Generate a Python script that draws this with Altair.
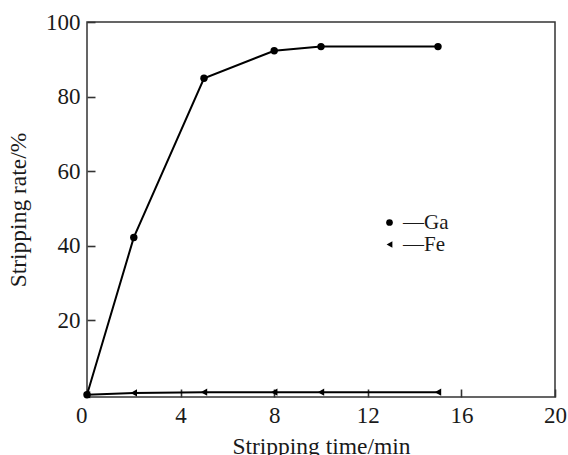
import altair as alt
import pandas as pd

# Stripping time (min) and stripping rate (%) for each metal
times = [0, 2, 5, 8, 10, 15]
ga_rate = [0, 42.2, 84.9, 92.3, 93.4, 93.4]
fe_rate = [0, 0.5, 0.7, 0.7, 0.7, 0.7]
series = ["Ga", "Fe"]

x_ticks = [0, 4, 8, 12, 16, 20]
y_ticks = [20, 40, 60, 80, 100]

df = pd.DataFrame(
    {
        "time": times * 2,
        "rate": ga_rate + fe_rate,
        "metal": ["Ga"] * len(times) + ["Fe"] * len(times),
    }
)

FONT = "Liberation Serif"
AXIS_GRAY = "#333333"
TEXT = "#1a1a1a"
W, H = 468, 375
TICK_LEN = 8

x_scale = alt.Scale(domain=[0, 20], nice=False)
y_scale = alt.Scale(domain=[-0.6, 100], nice=False, zero=False)

# The axes are shifted into the plot by the tick length, so the ticks point
# inward from the frame while the labels stay just outside it.
x_axis = alt.Axis(
    values=x_ticks,
    title="Stripping time/min",
    offset=-TICK_LEN,
    ticks=True,
    tickSize=TICK_LEN,
    tickWidth=1.6,
    tickColor=AXIS_GRAY,
    domain=False,
    grid=False,
    labelFlush=False,
    labelAlign={"condition": {"test": "datum.value === 0", "value": "right"}, "value": "center"},
    labelPadding=7,
    titlePadding=7,
)
y_axis = alt.Axis(
    values=y_ticks,
    title="Stripping rate/%",
    offset=-TICK_LEN,
    ticks=True,
    tickSize=TICK_LEN,
    tickWidth=1.6,
    tickColor=AXIS_GRAY,
    domain=False,
    grid=False,
    labelFlush=False,
    labelPadding=7,
    titlePadding=15,
)

x_main = alt.X("time:Q", scale=x_scale, axis=x_axis)
y_main = alt.Y("rate:Q", scale=y_scale, axis=y_axis)

lines = (
    alt.Chart(df)
    .mark_line(color="black", strokeWidth=2)
    .encode(x=x_main, y=y_main, detail="metal:N")
)

points = (
    alt.Chart(df)
    .mark_point(filled=True, opacity=1, size=55)
    .encode(
        x=x_main,
        y=y_main,
        shape=alt.Shape(
            "metal:N",
            scale=alt.Scale(domain=series, range=["circle", "triangle-left"]),
            legend=alt.Legend(
                title=None,
                orient="none",
                legendX=292,
                legendY=190,
                symbolFillColor="black",
                symbolStrokeColor="black",
                symbolSize=45,
                labelFont=FONT,
                labelFontSize=21,
                labelColor=TEXT,
                labelExpr="'\u2014' + datum.label",
                labelOffset=3,
                rowPadding=0,
            ),
        ),
        color=alt.value("black"),
        order=alt.Order("metal:N", sort="ascending"),
    )
)

chart = (
    alt.layer(lines, points)
    .properties(
        width=W,
        height=H,
        autosize=alt.AutoSizeParams(type="none"),
        padding={"left": 87, "top": 22, "right": 13, "bottom": 58},
    )
    .configure_view(stroke=AXIS_GRAY, strokeWidth=1.5)
    .configure_axis(
        labelFont=FONT,
        labelFontSize=23,
        labelColor=TEXT,
        titleFont=FONT,
        titleFontSize=23.5,
        titleFontWeight="normal",
        titleColor=TEXT,
    )
)

chart.save("out.html", embed_options={"renderer": "svg", "actions": False})
